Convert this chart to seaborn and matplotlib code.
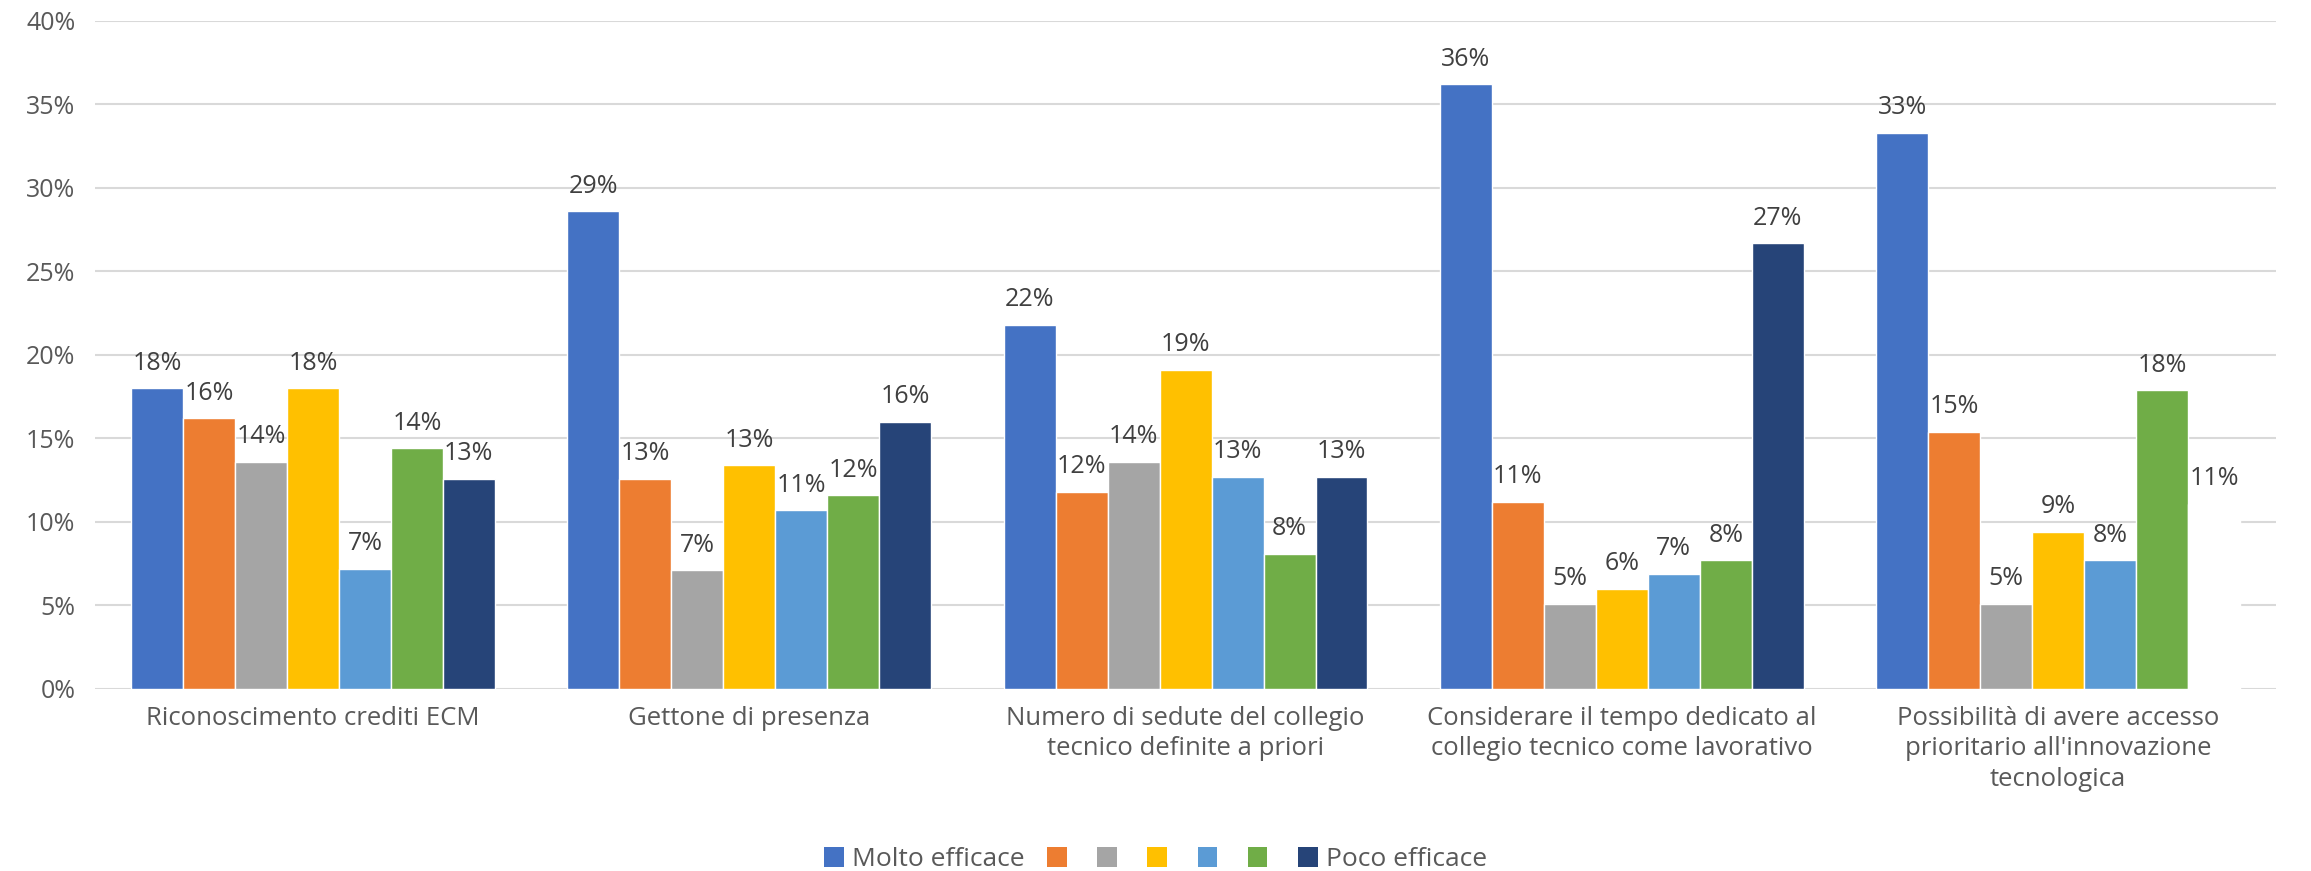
import numpy as np
import pandas as pd
import matplotlib
matplotlib.use("Agg")
import matplotlib.pyplot as plt
import matplotlib.ticker as mticker
from matplotlib.patches import Rectangle
import seaborn as sns

# Categories (x axis)
categories = [
    "Riconoscimento crediti ECM",
    "Gettone di presenza",
    "Numero di sedute del collegio\ntecnico definite a priori",
    "Considerare il tempo dedicato al\ncollegio tecnico come lavorativo",
    "Possibilità di avere accesso\nprioritario all'innovazione\ntecnologica",
]

# Series (scale from "Molto efficace" to "Poco efficace"), values in %
series_names = ["Molto efficace", "s2", "s3", "s4", "s5", "s6", "Poco efficace"]
legend_labels = ["Molto efficace", "", "", "", "", "", "Poco efficace"]
s1 = [18.0, 28.6, 21.8, 36.2, 33.3]
s2 = [16.2, 12.6, 11.8, 11.2, 15.4]
s3 = [13.6, 7.1, 13.6, 5.1, 5.1]
s4 = [18.0, 13.4, 19.1, 6.0, 9.4]
s5 = [7.2, 10.7, 12.7, 6.9, 7.7]
s6 = [14.4, 11.6, 8.1, 7.7, 17.9]
s7 = [12.6, 16.0, 12.7, 26.7, 11.1]

colors = ["#4472C4", "#ED7D31", "#A5A5A5", "#FFC000", "#5B9BD5", "#70AD47", "#264478"]

# long-form table for seaborn
rows = []
for name, vals in zip(series_names, [s1, s2, s3, s4, s5, s6, s7]):
    for cat, v in zip(categories, vals):
        rows.append({"cat": cat, "series": name, "value": v / 100.0})
df = pd.DataFrame(rows)

sns.set_style("white")
plt.rcParams["font.family"] = ["Open Sans", "DejaVu Sans"]

fig, ax = plt.subplots(figsize=(23.11, 8.71), dpi=100)
fig.subplots_adjust(left=0.041, right=0.985, top=0.976, bottom=0.209)

sns.barplot(data=df, x="cat", y="value", hue="series", hue_order=series_names,
            order=categories, palette=colors, width=0.834, saturation=1,
            dodge=True, legend=False, errorbar=None, ax=ax)

# the last "Poco efficace" bar is drawn white in the original
last = ax.containers[-1].patches[-1]
last.set_facecolor("white")

for cont in ax.containers:
    ax.bar_label(cont, labels=[f"{p.get_height() * 100:.0f}%" for p in cont.patches],
                 padding=9, fontsize=18, color="#404040")

ax.set_ylim(0, 0.40)
ax.set_xlim(-0.5, len(categories) - 0.5)
ax.yaxis.set_major_locator(mticker.MultipleLocator(0.05))
ax.yaxis.set_major_formatter(mticker.FuncFormatter(lambda v, p: f"{v * 100:.0f}%"))
ax.set_axisbelow(True)
ax.grid(axis="y", color="#D9D9D9", linewidth=1.5)
ax.grid(axis="x", visible=False)
for sp in ax.spines.values():
    sp.set_visible(False)
ax.set_xlabel("")
ax.set_ylabel("")
ax.tick_params(axis="y", length=0, labelsize=18, labelcolor="#595959", pad=14)
ax.tick_params(axis="x", length=0, pad=12)
for lbl in ax.get_xticklabels():
    lbl.set_fontsize(18.5)
    lbl.set_color("#595959")
    lbl.set_linespacing(1.3)

handles = [Rectangle((0, 0), 1, 1, facecolor=c, edgecolor="none") for c in colors]
leg = fig.legend(handles, legend_labels, loc="center", bbox_to_anchor=(0.5, 0.013),
                 ncol=7, frameon=False, handlelength=0.75, handleheight=0.75,
                 handletextpad=0.3, columnspacing=0.85,
                 prop={"size": 19})
for t in leg.get_texts():
    t.set_color("#595959")

fig.savefig("out.png", dpi=100)
